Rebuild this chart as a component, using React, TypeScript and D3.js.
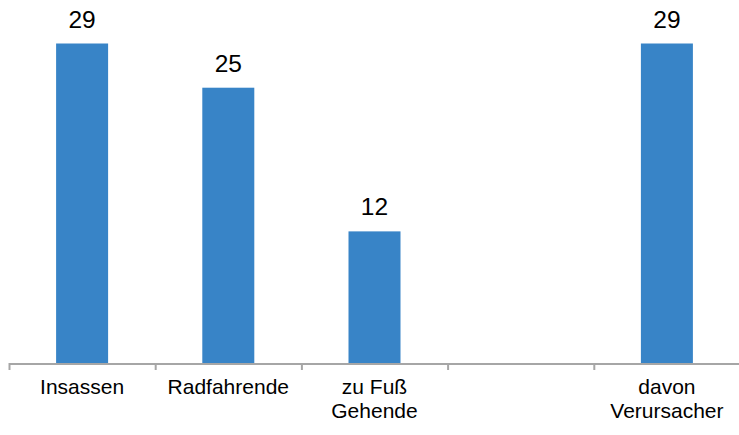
import React from "react";
import * as d3 from "d3";

const categories: string[] = ["Insassen", "Radfahrende", "zu Fuß\nGehende", "", "davon\nVerursacher"];
const values: (number | null)[] = [29, 25, 12, null, 29];

const W = 739;
const H = 435;

export default function App() {
  const x = d3.scaleBand<string>().domain(categories.map((c, i) => String(i))).range([9.5, 740.5]).paddingInner(0).paddingOuter(0);
  const y = d3.scaleLinear().domain([0, 29]).range([364, 43.5]);
  const barW = 52;
  const ticks = [0, 1, 2, 3, 4].map((i) => x(String(i)) as number);
  return (
    <svg width={W} height={H} style={{ position: "absolute", left: 0, top: 0, background: "#fff" }} fontFamily="'Liberation Sans', Arial, sans-serif">
      {values.map((v, i) => {
        if (v == null) return null;
        const cx = (x(String(i)) as number) + x.bandwidth() / 2 - 0.5;
        return (
          <g key={i}>
            <rect x={cx - barW / 2} y={y(v)} width={barW} height={y(0) - y(v)} fill="#3884c7" />
            <text x={cx} y={y(v) - 16} textAnchor="middle" fontSize={24.5} fill="#000">{v}</text>
          </g>
        );
      })}
      <line x1={9.5} x2={W} y1={364} y2={364} stroke="#a6a6a6" strokeWidth={2} />
      {ticks.map((t, i) => (
        <line key={i} x1={t} x2={t} y1={363} y2={370} stroke="#a6a6a6" strokeWidth={2} />
      ))}
      {categories.map((c, i) => {
        const cx = (x(String(i)) as number) + x.bandwidth() / 2 - 0.5;
        return (
          <text key={i} x={cx} y={394} textAnchor="middle" fontSize={21} fill="#000">
            {c.split("\n").map((line, j) => (
              <tspan key={j} x={cx} dy={j === 0 ? 0 : 24}>{line}</tspan>
            ))}
          </text>
        );
      })}
    </svg>
  );
}
